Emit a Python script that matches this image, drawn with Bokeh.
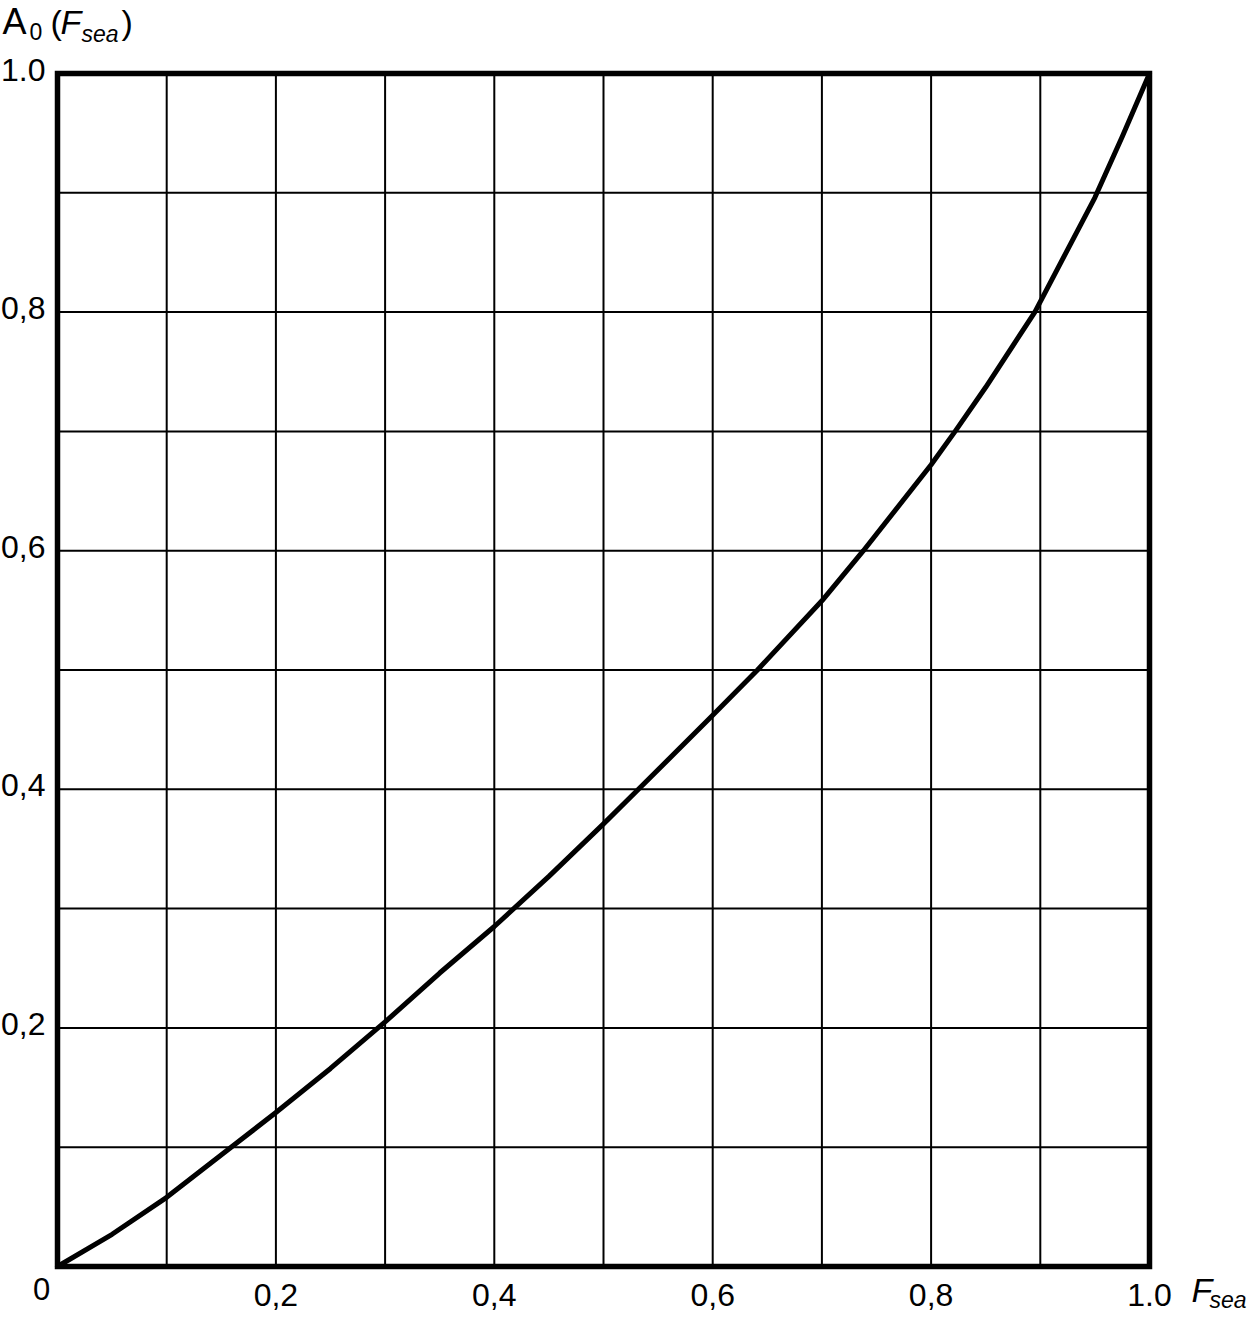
from bokeh.plotting import figure
from bokeh.models import Range1d, Label, LabelSet, ColumnDataSource
from bokeh.core.properties import value
from bokeh.embed import file_html
from bokeh.resources import INLINE

# curve data A0(Fsea)
f_sea = [0, 0.05, 0.1, 0.159, 0.2, 0.25, 0.3, 0.35, 0.4, 0.45, 0.5, 0.532, 0.6, 0.641,
         0.7, 0.738, 0.8, 0.822, 0.85, 0.895, 0.95, 0.975, 1.0]
a0 = [0, 0.027, 0.058, 0.1, 0.129, 0.166, 0.205, 0.246, 0.285, 0.327, 0.371, 0.4, 0.462, 0.5,
      0.558, 0.6, 0.672, 0.7, 0.737, 0.8, 0.896, 0.947, 1.0]

grid_ticks = [0.1, 0.2, 0.3, 0.4, 0.5, 0.6, 0.7, 0.8, 0.9]
x_tick_vals = [0.2, 0.4, 0.6, 0.8, 1.0]
x_tick_labels = ["0,2", "0,4", "0,6", "0,8", "1.0"]
y_tick_vals = [0.2, 0.4, 0.6, 0.8, 1.0]
y_tick_labels = ["0,2", "0,4", "0,6", "0,8", "1.0"]
origin_label = "0"

FONT = "Liberation Sans"

# canvas layout (pixels): plot box 1092 x 1193, margins around it
W, H = 1256, 1314
L, T = 57, 73
PW, PH = 1092, 1193
R, B = W - L - PW, H - T - PH
x_range = Range1d(-L / PW, 1 + R / PW)
y_range = Range1d(-B / PH, 1 + T / PH)

p = figure(frame_width=W, frame_height=H, x_range=x_range, y_range=y_range,
           x_axis_type=None, y_axis_type=None, min_border=0,
           output_backend="svg", toolbar_location=None)
p.background_fill_color = "white"
p.border_fill_color = "white"
p.outline_line_color = None
p.grid.visible = False

n = len(grid_ticks)
# vertical and horizontal grid lines
p.segment(x0=grid_ticks, y0=[0] * n, x1=grid_ticks, y1=[1] * n, line_color="black", line_width=2)
p.segment(x0=[0] * n, y0=grid_ticks, x1=[1] * n, y1=grid_ticks, line_color="black", line_width=2)
# plot frame
p.quad(left=[0], right=[1], bottom=[0], top=[1], fill_color=None,
       line_color="black", line_width=5.5, line_join="miter")

p.line(f_sea, a0, line_color="black", line_width=5, line_join="round", line_cap="round")

# tick labels
xsrc = ColumnDataSource(dict(x=x_tick_vals, y=[0] * len(x_tick_vals), t=x_tick_labels))
p.add_layout(LabelSet(x="x", y="y", text="t", source=xsrc, text_align="center",
                      text_baseline="alphabetic", y_offset=-39,
                      text_font=value(FONT), text_font_size="32px", text_color="black"))
ysrc = ColumnDataSource(dict(x=[0] * len(y_tick_vals), y=y_tick_vals, t=y_tick_labels))
p.add_layout(LabelSet(x="x", y="y", text="t", source=ysrc, text_align="right",
                      text_baseline="alphabetic", x_offset=-12, y_offset=-7,
                      text_font=value(FONT), text_font_size="32px", text_color="black"))


def lab(x, y, text, xo, yo, size, style="normal", align="left"):
    p.add_layout(Label(x=x, y=y, text=text, x_offset=xo, y_offset=yo,
                       text_align=align, text_baseline="middle",
                       text_font=FONT, text_font_size=size, text_font_style=style,
                       text_color="black"))


lab(0, 0, origin_label, -16, -22, "31px", align="center")

# y title: A0 (Fsea)
lab(0, 1, "A", -55, 52, "36px")
lab(0, 1, "0", -28, 42, "23px")
lab(0, 1, "(", -7, 52, "34px")
lab(0, 1, "F", 3, 52, "34px", "italic")
lab(0, 1, "sea", 24, 40, "23px", "italic")
lab(0, 1, ")", 64, 52, "34px")

# x title: Fsea
lab(1, 0, "F", 42, -23, "34px", "italic")
lab(1, 0, "sea", 60, -33, "23px", "italic")

open("out.html", "w").write(file_html(p, INLINE))
